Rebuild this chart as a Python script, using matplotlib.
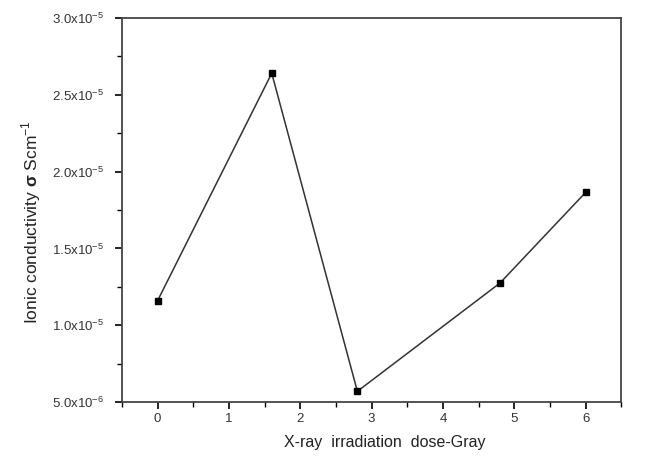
import numpy as np
from matplotlib import pyplot as plt
from matplotlib.ticker import FixedLocator, MultipleLocator

plt.rcParams['font.family'] = ['Liberation Sans', 'DejaVu Sans']
plt.rcParams['mathtext.fontset'] = 'custom'
plt.rcParams['mathtext.rm'] = 'Liberation Sans'
plt.rcParams['mathtext.bf'] = 'Liberation Sans:bold'

# dose (Gray) vs ionic conductivity (S/cm)
dose = [0, 1.6, 2.8, 4.8, 6]
sigma = [1.16e-5, 2.64e-5, 5.7e-6, 1.275e-5, 1.865e-5]

y_ticks = [5.0e-6, 1.0e-5, 1.5e-5, 2.0e-5, 2.5e-5, 3.0e-5]
y_labels = ["5.0x10$^{-6}$", "1.0x10$^{-5}$", "1.5x10$^{-5}$",
            "2.0x10$^{-5}$", "2.5x10$^{-5}$", "3.0x10$^{-5}$"]

fig = plt.figure(figsize=(6.52, 4.59), dpi=100)
ax = fig.add_axes([0.187, 0.124, 0.766, 0.837])

ax.plot(dose, sigma, color="#333333", linewidth=1.1,
        marker="s", markersize=5, markerfacecolor="black",
        markeredgecolor="black")

ax.set_xlim(-0.5, 6.5)
ax.set_ylim(5.0e-6, 3.0e-5)
ax.set_xticks(range(0, 7))
ax.xaxis.set_minor_locator(MultipleLocator(0.5))
ax.yaxis.set_major_locator(FixedLocator(y_ticks))
ax.set_yticklabels(y_labels)
ax.yaxis.set_minor_locator(MultipleLocator(2.5e-6))

ax.tick_params(which="major", direction="out", length=5, width=1.2,
               labelsize=9.5, labelcolor="#333333", pad=8,
               top=False, right=False)
ax.tick_params(axis="x", which="major", pad=3)
ax.tick_params(which="minor", direction="out", length=3.5, width=1.0,
               top=False, right=False)

for s in ax.spines.values():
    s.set_linewidth(1.3)
    s.set_color("#444444")

ax.set_xlabel("X-ray  irradiation  dose-Gray", fontsize=11.5,
              color="#222222")
ax.xaxis.set_label_coords(0.527, -0.085)
ax.set_ylabel(r"Ionic conductivity $\mathbf{\sigma}$ Scm$^{-1}$",
              fontsize=12.5, color="#222222")
ax.yaxis.set_label_coords(-0.158, 0.47)

fig.savefig("out.png", dpi=100)
